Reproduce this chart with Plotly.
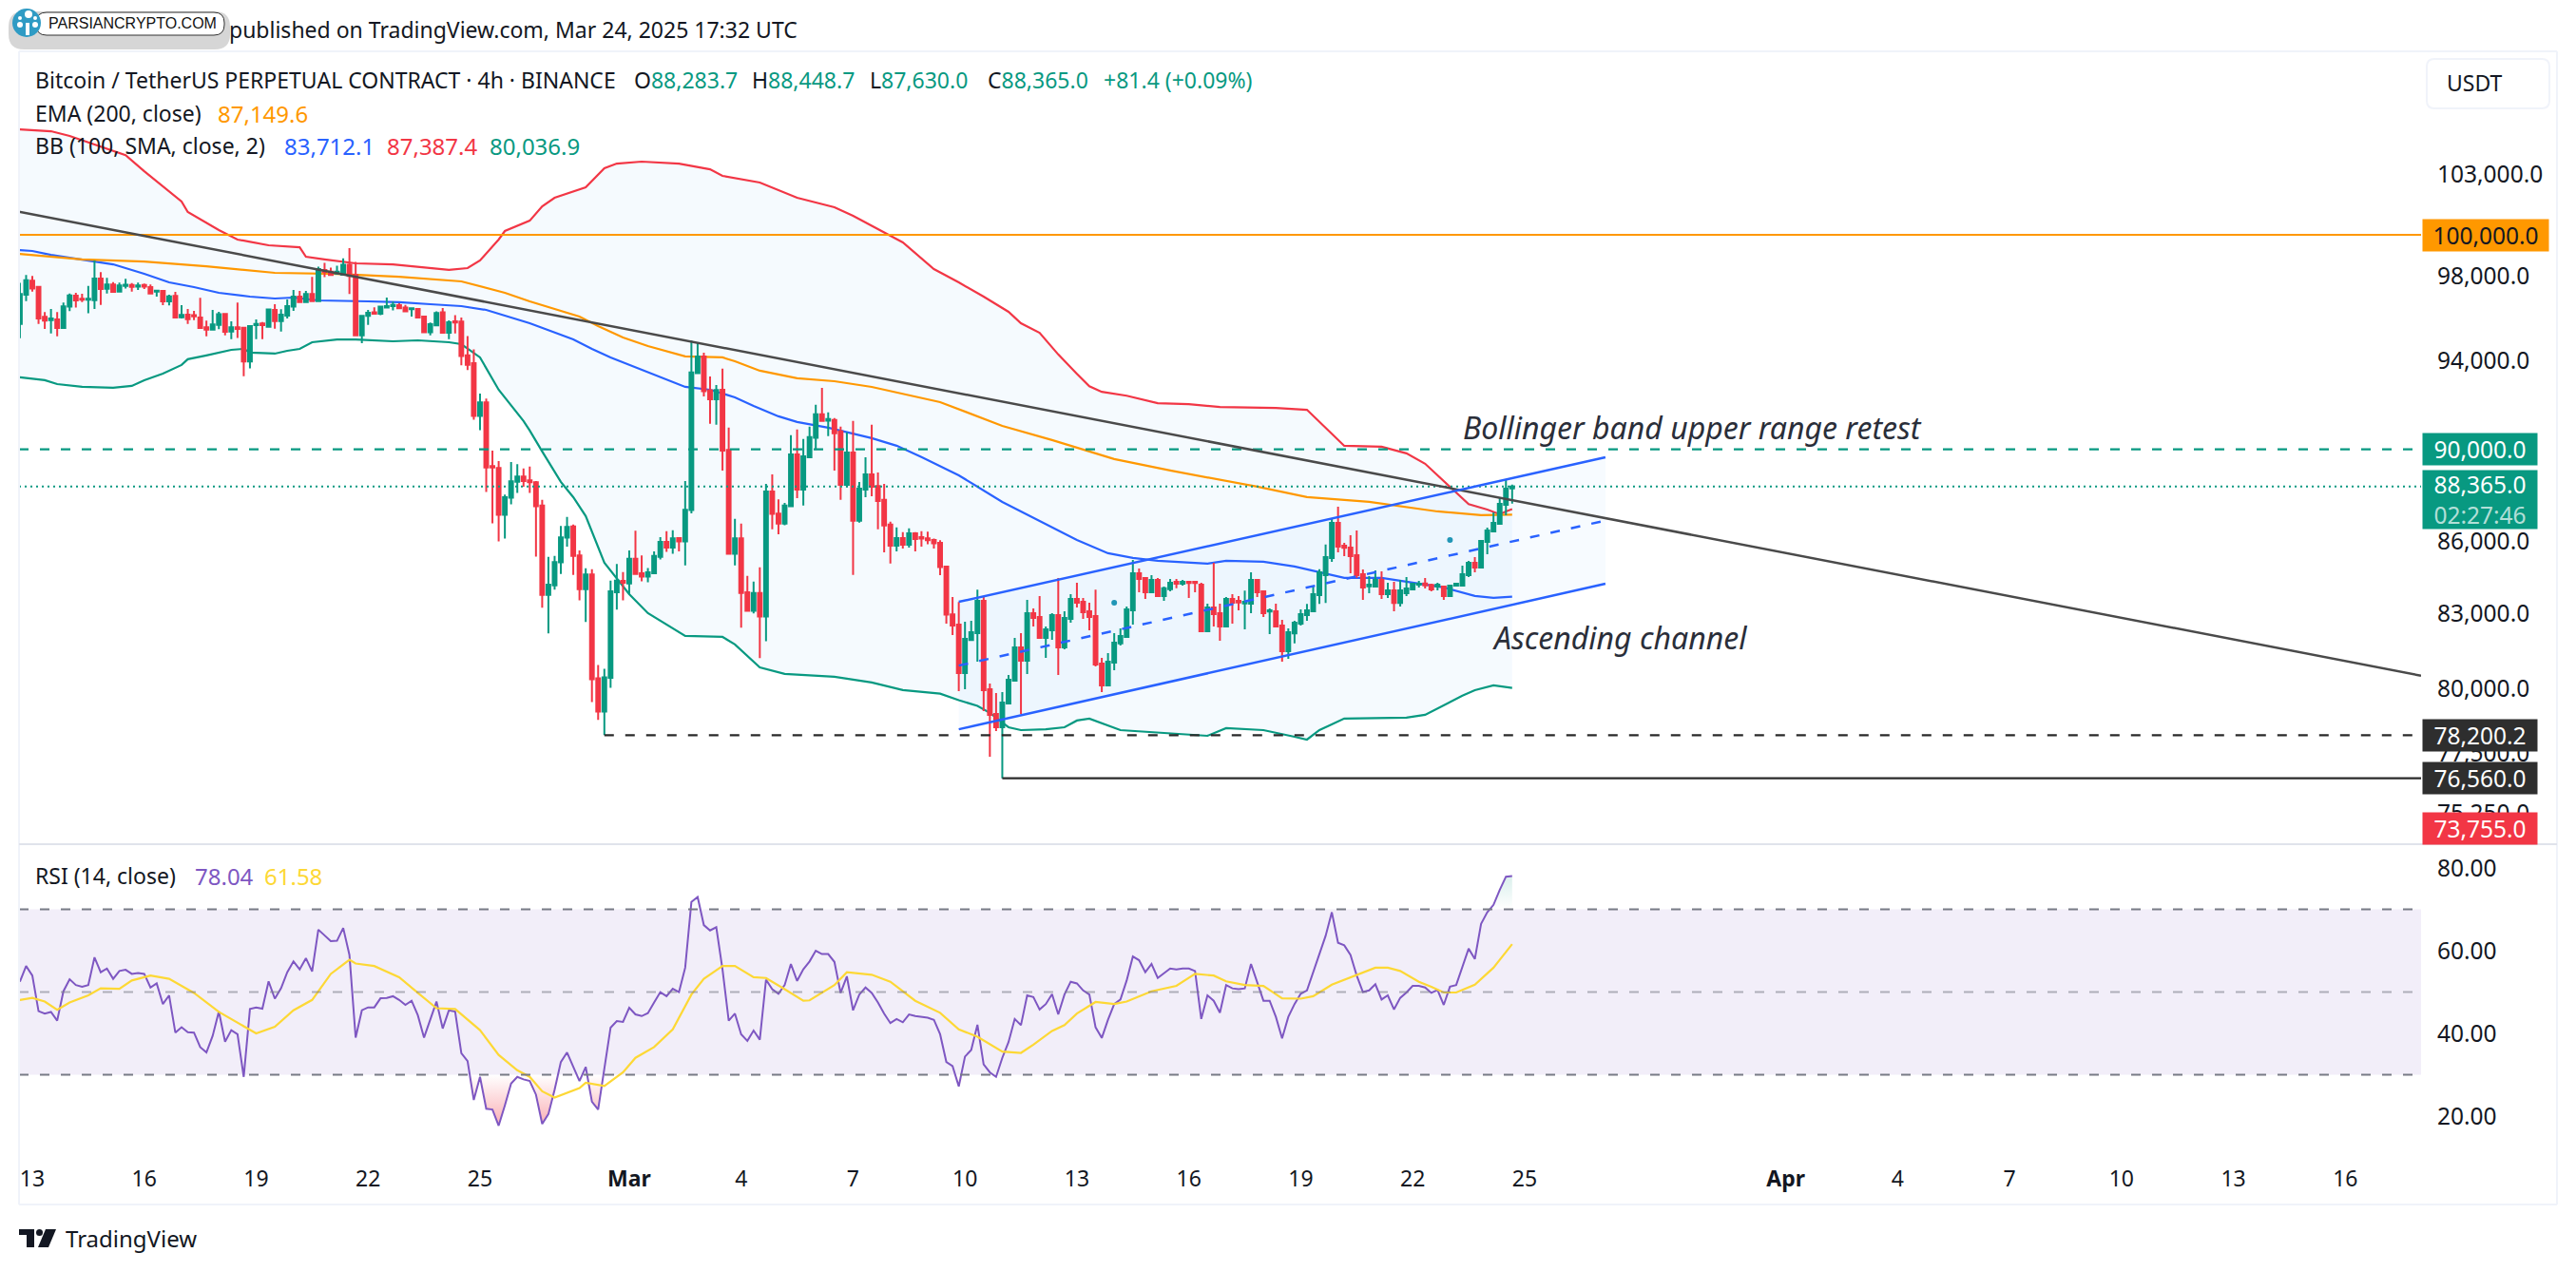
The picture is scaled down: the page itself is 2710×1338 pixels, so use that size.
import math
import pandas as pd
import plotly.graph_objects as go

FONT = 'Noto Sans'

#page size, everything around the panes is placed in pixels of the page
W = 2710
H = 1338

#open, high, low, close of the 4h bars, first row is bar -2 (12 Feb 16:00)
candles = [
    (95720,97670,95045,97130),(97100,98045,96800,97790),(97775,98000,97250,97400),(97475,97505,95720,95975),
    (96050,96275,95480,95870),(95900,96425,95270,95975),(95930,96275,95135,95525),(95525,96725,95525,96545),
    (96530,97160,96320,97070),(97055,97190,96485,96830),(96905,97145,96755,96860),(96860,97520,96215,96905),
    (96845,98750,96425,97880),(97880,98180,96620,97370),(97385,97910,97160,97595),(97595,97700,97235,97235),
    (97250,97685,97250,97550),(97520,97865,97400,97580),(97565,97655,97250,97475),(97490,97685,97325,97550),
    (97565,97640,97370,97490),(97460,97595,97115,97160),(97250,97295,97010,97295),(97280,97280,96605,96785),
    (96785,97100,96590,97025),(97040,97235,95990,96020),(96035,96605,95975,96140),(96155,96425,95720,95945),
    (96125,96335,95900,96080),(96020,96950,95495,95525),(95555,95870,95135,95450),(95450,96380,95435,95690),
    (95675,96290,95465,96170),(96185,96230,95180,95345),(95360,95840,95000,95555),(95555,96725,95060,95480),
    (95540,95585,93290,93965),(93965,95615,93650,95615),(95660,95930,95000,95720),(95735,95810,95000,95660),
    (95585,96425,95570,96395),(96380,96650,95495,95855),(95855,96410,95360,96155),(96110,96875,95975,96560),
    (96530,97325,96335,97010),(97010,97280,96725,96755),(96755,97280,96725,97130),(97130,97955,96770,96800),
    (96800,98450,96800,98330),(98285,98630,97940,98195),(98210,98405,98015,98045),(98120,98495,98060,98210),
    (98060,98855,98045,98540),(98540,99350,97130,98000),(98045,98675,95180,95180),(95180,96095,94820,96095),
    (96095,96380,95675,96245),(96260,96500,96200,96200),(96200,96530,96125,96530),(96485,96965,96470,96560),
    (96560,96770,96350,96620),(96605,96695,96425,96455),(96485,96620,96305,96305),(96410,96455,96065,96455),
    (96425,96425,96020,96020),(96065,96065,95300,95330),(95330,95780,95180,95705),(95645,96305,95645,96230),
    (96260,96470,95270,95300),(95300,95885,95000,95795),(95840,96125,95270,95780),(95825,96020,93785,94220),
    (94250,95150,93575,93815),(93893,94532,91314,91483),(91483,92498,90847,92098),(92098,92270,88125,89200),
    (89258,89941,86780,89200),(89172,89481,86010,87144),(87144,88016,86130,87907),(87880,89439,87593,88589),
    (88575,89341,88085,88798),(88798,89158,88357,88603),(88631,89241,88085,88548),(88548,88603,85372,87512),
    (87539,87785,83256,83787),(83787,85358,82208,84203),(84177,85398,83995,85148),(85135,86672,84647,86184),
    (86170,87050,85794,86631),(86645,86726,84607,85398),(85424,85636,83553,84021),(84021,84884,82672,84633),
    (84633,84845,79478,80381),(80419,80946,78790,79109),(79109,80795,78200,80457),(80432,84372,80042,83930),
    (83892,85069,83178,84372),(84359,84726,83553,84281),(84255,85636,83800,85280),(85280,86470,84647,84647),
    (84673,85424,84346,84541),(84541,84898,84307,84713),(84673,85596,84647,85398),(85358,86197,85253,85995),
    (85995,86443,85570,85754),(85754,86483,85490,86143),(86157,86197,85596,86010),(86010,88603,85003,87362),
    (87348,94933,87212,93458),(93430,94829,93430,94198),(94198,94369,92370,92600),(92642,93277,91130,92241),
    (92241,92885,91088,92656),(92670,93632,89063,89941),(89969,90960,85490,85490),(85490,86969,85003,86143),
    (86143,86767,82440,83865),(83892,84567,83088,83127),(83127,84333,83023,83865),(83865,84924,81222,82895),
    (82895,88480,81900,88153),(88153,88896,86523,87185),(87198,87812,86320,86767),(86767,87661,86699,87539),
    (87512,90624,87512,89774),(89774,90875,87866,88235),(88235,90450,87539,89690),(89648,91003,89607,90535),
    (90507,91985,89969,91557),(91557,92755,91215,91258),(91272,91642,90578,91343),(91300,91385,89063,90706),
    (90790,91003,87785,88440),(88440,90748,88330,89857),(89857,91258,84607,86888),(86888,88561,86807,88276),
    (88235,89648,87907,88896),(88896,91088,87948,88357),(88385,88980,86523,87743),(87785,88480,85555,86685),
    (86726,86848,85082,85834),(85834,86604,85596,86157),(86157,86403,85715,85874),(85874,86564,85754,86360),
    (86360,86403,85596,86117),(86197,86443,85794,86130),(86144,86427,85890,86063),(86077,86130,85717,85930),
    (85957,86063,84601,84931),(84958,84998,82610,82971),(82984,83697,82146,82532),(82571,83487,79913,80626),
    (80626,82687,79988,81994),(81943,82726,81917,82262),(82223,84000,81078,83539),(83539,83697,79133,79950),
    (79988,80213,77377,78985),(79023,79838,78359,78506),(78506,79875,76560,79466),(79429,80551,79392,80363),
    (80326,82032,80288,81650),(81650,82223,79023,81117),(81117,83579,80588,83036),(83036,83229,82494,82842),
    (82881,83736,82032,82032),(82032,82494,81231,82378),(82339,83036,81955,82958),(82958,84483,80551,81650),
    (81650,83107,81574,82842),(82803,83815,82648,83618),(83618,84287,83268,83461),(83500,83657,82803,83068),
    (83107,83461,82339,82881),(82920,84000,80888,80964),(81002,81231,79875,80138),(80138,81422,80138,81078),
    (81040,82223,80738,81841),(81805,82416,81727,82108),(82070,83304,82070,83190),(83150,85237,82571,84680),
    (84680,84878,83893,84438),(84478,84478,83618,83893),(83893,84601,83893,84398),(84398,84478,83736,83736),
    (83736,84130,83539,84052),(84013,84438,83933,84287),(84326,84438,84052,84247),(84247,84398,84169,84326),
    (84326,84326,83657,84273),(84326,84326,83893,84273),(84208,84287,82300,82300),(82300,83422,82300,83268),
    (83268,85118,82494,82997),(83036,83422,81917,82494),(82494,83697,82455,83618),(83618,83815,82610,83461),
    (83539,83736,83150,83474),(83435,83960,82377,83500),(83422,84719,83036,84398),(84398,84438,83697,83893),
    (83933,83973,82881,83036),(83100,83229,82184,83150),(83107,83422,82494,82494),(82532,82765,81078,81498),
    (81498,82416,81193,82262),(82216,82722,81806,82644),(82605,83184,82527,82994),(82955,83414,82722,83150),
    (83111,84125,83111,83810),(83770,84849,83414,84718),(84600,85885,83453,85352),(85312,86963,85152,86801),
    (86801,87493,85553,85794),(85834,85954,85393,85740),(85754,86275,84678,85393),(85433,86475,84481,84600),
    (84639,84836,83577,84086),(84139,84560,83849,84205),(84125,84797,84125,84402),(84402,84757,83616,83810),
    (83810,84283,83654,83967),(83967,84323,83111,83453),(83453,84402,83300,83967),(83849,84520,83732,84046),
    (84007,84283,83967,84244),(84205,84363,84086,84244),(84257,84481,84046,84178),(84191,84244,83928,84007),
    (84125,84283,83967,84205),(84125,84165,83577,83732),(83732,84205,83732,84165),(84165,84244,84165,84244),
    (84165,84994,84165,84639),(84600,85192,84520,85112),(85112,85352,84718,84915),(84915,86074,84876,86034),
    (85994,86597,85473,86475),(86435,87249,86435,86801),(86760,87860,86760,87615),(87575,88687,87127,88273),
    (88283.7,88448.7,87630,88365),
]

#rsi of every bar, same order as the candles
rsi_values = [
    52.5,56.3,54.0,45.4,44.8,45.2,43.1,50.2,53.1,51.7,51.3,51.7,58.4,54.8,55.7,53.2,55.1,55.4,54.4,54.6,
    54.4,51.1,52.1,47.1,49.2,40.2,41.5,40.3,40.2,36.7,35.4,39.4,45.3,38.0,40.8,39.8,29.5,45.9,46.3,46.0,
    52.6,48.4,50.9,54.8,57.4,55.5,58.2,55.0,65.1,63.8,62.3,62.4,65.5,59.0,39.0,45.6,46.3,46.3,48.5,48.6,
    49.0,48.1,46.9,47.9,44.4,39.0,43.3,47.7,41.2,45.6,45.3,35.2,33.3,23.9,29.5,21.8,21.6,17.7,22.6,27.9,
    29.5,28.9,28.5,25.2,18.1,20.5,26.4,33.1,35.4,31.8,28.5,31.9,23.5,21.6,31.0,41.4,43.0,42.8,46.2,44.6,
    44.2,44.9,47.5,50.0,49.0,50.8,50.0,55.9,71.8,73.0,66.2,64.9,65.7,55.5,43.1,44.8,39.8,38.2,40.7,38.5,
    53.0,50.7,49.6,51.7,56.8,52.7,55.5,57.4,60.0,59.2,59.2,57.3,49.8,53.8,45.6,49.4,51.1,49.8,47.5,44.8,
    42.5,43.5,42.7,44.6,44.2,44.0,43.8,43.3,39.8,33.1,32.1,27.2,34.4,36.0,42.1,32.5,30.6,29.5,34.1,37.9,
    43.5,42.0,49.2,48.8,45.8,47.1,49.5,44.6,49.4,52.5,52.1,50.4,49.4,41.5,38.9,43.3,47.1,48.2,52.8,58.6,
    57.7,54.8,56.8,53.4,54.6,55.7,55.5,55.7,55.7,55.1,43.5,49.2,47.9,45.0,51.7,50.9,50.7,50.9,56.8,52.1,
    47.9,47.9,44.0,38.8,44.0,47.1,49.6,50.4,54.8,59.7,63.6,69.3,61.9,61.3,59.0,54.0,50.0,50.4,51.9,48.2,
    49.2,45.8,48.6,49.9,51.5,51.5,51.1,49.8,50.5,46.9,51.3,51.7,55.9,60.5,58.0,66.5,69.3,71.1,74.7,77.9,
    78.04,
]

#the slower lines are read at their bends, (bar, value)
bb_upper = [(-2,105320),(3,105225),(6,104980),(15,104000),(18,103180),(24,101650),(25,101130),(30,100240),
    (33,99770),(38,99490),(43,99394),(44,98930),(47,98800),(52,98610),(58,98560),(63,98425),(67,98290),(70,98380),
    (72,98750),(75,99770),(76,100190),(80,100700),(82,101410),(84,101840),(89,102365),(92,103325),(94,103565),
    (98,103665),(104,103565),(109,103275),(111,102940),(117,102605),(123,101840),(129,101365),(132,100940),
    (140,99630),(145,98330),(149,97690),(153,97010),(157,96290),(159,95750),(162,95300),(165,94290),(168,93400),
    (170,92830),(172,92575),(176,92400),(181,92060),(186,92015),(191,91890),(200,91845),(205,91760),(208,90950),
    (211,90150),(217,90110),(221,89820),(224,89360),(228,88340),(231,87600),(234,87370),(236,87170),(237,87290),
    (238,87387)]
bb_lower = [(-2,93236),(2,93105),(4,92930),(8,92800),(13,92757),(16,92845),(18,93105),(21,93410),(24,93805),
    (25,94070),(28,94245),(32,94505),(34,94550),(35,94375),(39,94330),(41,94462),(43,94550),(45,94860),(49,94990),
    (52,94990),(58,94904),(62,94947),(67,94860),(69,94770),(72,94155),(75,92670),(79,91255),(80,90830),(82,89900),
    (85,88565),(87,87905),(89,87090),(92,85115),(96,83815),(99,83035),(102,82570),(105,82110),(111,82070),(113,81765),
    (117,80850),(121,80590),(129,80475),(135,80250),(140,79955),(146,79810),(149,79555),(152,79335),(154,79060),
    (157,78505),(159,78395),(163,78430),(166,78505),(168,78765),(170,78838),(175,78395),(182,78285),(189,78175),
    (192,78470),(198,78395),(203,78140),(205,78030),(207,78395),(211,78840),(221,78875),(224,78985),(230,79730),
    (232,79950),(235,80140),(238,80037)]
bb_basis = [(-2,99255),(0,99210),(3,99023),(7,98839),(10,98700),(13,98562),(18,98103),(22,97692),(26,97465),
    (30,97190),(35,97010),(39,96920),(42,96965),(46,96830),(54,96785),(59,96740),(64,96648),(69,96558),(73,96378),
    (74,96288),(80,95750),(87,94990),(90,94550),(93,94155),(98,93585),(101,93236),(105,92800),(109,92670),(113,92326),
    (116,91940),(120,91468),(123,91212),(128,90957),(135,90490),(139,90155),(143,89650),(149,88855),(156,87700),
    (162,86885),(168,86075),(173,85515),(177,85317),(181,85198),(189,85080),(192,85198),(198,85158),(203,84960),
    (207,84720),(211,84483),(217,84483),(227,84090),(232,83737),(235,83660),(238,83712)]
ema = [(-2,99070),(3,98931),(8,98800),(18,98700),(28,98470),(39,98150),(49,98103),(59,97965),(69,97738),(76,97190),
    (80,96785),(88,96063),(91,95615),(95,95082),(99,94680),(105,94200),(111,94155),(113,93979),(117,93541),(123,93192),
    (129,93060),(135,92800),(146,92110),(156,91040),(164,90406),(174,89565),(183,89063),(197,88360),(205,87905),
    (215,87700),(226,87290),(233,87130),(238,87150)]
rsi_ma = [(-2,48.1),(0,48.6),(2,47.7),(4,45.7),(6,47.5),(9,49.2),(11,50.9),(14,50.8),(16,52.8),(19,54.0),(22,53.2),
    (26,49.8),(30,45.2),(34,41.7),(36,40.0),(39,41.6),(42,45.6),(45,48.1),(48,54.4),(51,57.8),(52,56.9),(55,56.3),
    (59,53.6),(62,49.8),(65,46.1),(68,45.9),(72,40.8),(75,34.8),(78,31.1),(80,29.5),(82,26.0),(84,24.5),(88,26.8),
    (89,28.1),(92,27.3),(95,30.6),(97,34.1),(100,36.7),(103,41.0),(106,49.4),(108,53.2),(111,56.3),(113,56.3),(116,53.6),
    (118,53.4),(121,50.7),(124,47.9),(125,48.0),(129,51.7),(131,54.8),(135,54.2),(138,52.5),(142,47.9),(146,45.0),
    (149,41.0),(152,39.2),(154,37.5),(156,35.6),(159,35.3),(161,37.3),(164,40.6),(166,42.0),(168,44.8),(171,47.6),
    (174,47.1),(176,47.7),(180,50.2),(184,51.5),(187,54.4),(190,54.0),(192,52.6),(195,51.7),(198,51.5),(201,48.5),
    (204,48.4),(206,49.0),(209,51.8),(213,54.1),(216,55.9),(218,55.9),(220,55.1),(223,52.5),(225,51.3),(227,49.9),
    (229,49.9),(232,51.8),(235,55.9),(238,61.58)]


def bar_date(i):
    #bar 0 is 13 Feb 00:00, one bar every 4 hours
    return pd.Timestamp('2025-02-13') + pd.Timedelta(hours=4 * i)


def xs(points):
    return [bar_date(p[0]) for p in points]


def ys(points):
    return [p[1] for p in points]


def px_x(x):
    return x / W


def px_y(y):
    return 1 - y / H


def rounded(x0, y0, x1, y1, r):
    #rounded box as a path, given in page pixels
    pts = [(x0 + r, y0), (x1 - r, y0), (x1, y0), (x1, y0 + r), (x1, y1 - r), (x1, y1), (x1 - r, y1), (x0 + r, y1), (x0, y1), (x0, y1 - r), (x0, y0 + r), (x0, y0), (x0 + r, y0)]
    pts = [(px_x(a), px_y(b)) for a, b in pts]
    return ('M{0},{1} L{2},{3} Q{4},{5} {6},{7} L{8},{9} Q{10},{11} {12},{13} L{14},{15} Q{16},{17} {18},{19} L{20},{21} Q{22},{23} {24},{25} Z'
            .format(*[v for p in pts for v in p]))


def add_page_text(fig, x, y, text, size=23, color='#131722', family=FONT, xanchor='left'):
    fig.add_annotation(xref='paper', yref='paper', x=px_x(x), y=px_y(y), text=text, showarrow=False, xanchor=xanchor, yanchor='middle',
                       align='left', font=dict(family=family, size=size, color=color), borderpad=0)


def add_price_label(fig, price, text, bg, color='white', width=120, height=33):
    #axis label in a coloured box, annotations on a log axis take log10
    fig.add_annotation(xref='paper', yref='y', x=px_x(2548), y=math.log10(price), text=text, showarrow=False, xanchor='left', yanchor='middle',
                       align='center', width=width, height=height, bgcolor=bg, borderpad=0, font=dict(family=FONT, size=24.5, color=color))


dates = [bar_date(i) for i in range(-2, 239)]
ohlc = pd.DataFrame(candles, columns=['open', 'high', 'low', 'close'], index=dates)
rsi = pd.Series(rsi_values, index=dates)

# price range of the upper pane
price_range = [math.log10(74120), math.log10(109439)]

fig = go.Figure()

# bollinger fill and channel fill go under everything
fig.add_trace(go.Scatter(x=xs(bb_upper), y=ys(bb_upper), mode='lines', line=dict(color='#f23645', width=2.2)))
fig.add_trace(go.Scatter(x=xs(bb_lower), y=ys(bb_lower), mode='lines', line=dict(color='#089981', width=2.2), fill='tonexty', fillcolor='rgba(33,150,243,0.045)'))
fig.add_trace(go.Scatter(x=[bar_date(149), bar_date(253)], y=[83496, 89642], mode='lines', line=dict(width=0)))
fig.add_trace(go.Scatter(x=[bar_date(149), bar_date(253)], y=[78427, 84240], mode='lines', line=dict(width=0), fill='tonexty', fillcolor='rgba(33,150,243,0.035)'))
fig.add_trace(go.Scatter(x=xs(bb_basis), y=ys(bb_basis), mode='lines', line=dict(color='#2962ff', width=2.2)))
fig.add_trace(go.Scatter(x=xs(ema), y=ys(ema), mode='lines', line=dict(color='#ff9800', width=2.2)))
fig.add_trace(go.Scatter(x=[bar_date(174), bar_date(228)], y=[83460, 86075], mode='markers', marker=dict(color='#2196b6', size=6)))

# candles on an overlaying axis so they sit over the indicators
fig.add_trace(go.Candlestick(x=ohlc.index, open=ohlc['open'], high=ohlc['high'], low=ohlc['low'], close=ohlc['close'], yaxis='y3',
                             increasing=dict(line=dict(color='#089981', width=2), fillcolor='#089981'),
                             decreasing=dict(line=dict(color='#f23645', width=2), fillcolor='#f23645'),
                             whiskerwidth=0))

# rsi pane
fig.add_trace(go.Scatter(x=dates, y=[30] * len(dates), mode='lines', line=dict(width=0), yaxis='y2'))
fig.add_trace(go.Scatter(x=dates, y=rsi.clip(upper=30), mode='lines', line=dict(width=0), yaxis='y2', fill='tonexty',
                         fillgradient=dict(type='vertical', colorscale=[[0, 'rgba(242,54,69,0.4)'], [1, 'rgba(242,54,69,0)']])))
fig.add_trace(go.Scatter(x=dates, y=[70] * len(dates), mode='lines', line=dict(width=0), yaxis='y2'))
fig.add_trace(go.Scatter(x=dates, y=rsi.clip(lower=70), mode='lines', line=dict(width=0), yaxis='y2', fill='tonexty',
                         fillgradient=dict(type='vertical', colorscale=[[0, 'rgba(8,153,129,0)'], [1, 'rgba(8,153,129,0.15)']])))
fig.add_trace(go.Scatter(x=dates, y=rsi, mode='lines', line=dict(color='#7e57c2', width=2), yaxis='y2'))
fig.add_trace(go.Scatter(x=xs(rsi_ma), y=ys(rsi_ma), mode='lines', line=dict(color='#fdd835', width=2.2), yaxis='y2'))

# drawn lines, shapes stay above the traces
fig.add_hline(y=100000, line_color='#ff9800', line_width=2)
fig.add_hline(y=90000, line_color='#089981', line_width=2.2, line_dash='10px,12px')
fig.add_hline(y=88365, line_color='#089981', line_width=2, line_dash='2px,4px')
x_end = pd.Timestamp('2025-04-18 00:43')
fig.add_shape(type='line', x0=bar_date(92), x1=x_end, y0=78200.2, y1=78200.2, line=dict(color='#2a2a2a', width=2.2, dash='10px,12px'))
fig.add_shape(type='line', x0=bar_date(156), x1=x_end, y0=76560, y1=76560, line=dict(color='#2a2a2a', width=2.2))
fig.add_shape(type='line', x0=pd.Timestamp('2025-02-12 15:26'), x1=x_end, y0=101142, y1=80520, line=dict(color='#4a4a4a', width=2.5))
fig.add_shape(type='line', x0=bar_date(149), x1=bar_date(253), y0=83496, y1=89642, line=dict(color='#2962ff', width=2.5))
fig.add_shape(type='line', x0=bar_date(149), x1=bar_date(253), y0=78427, y1=84240, line=dict(color='#2962ff', width=2.5))
fig.add_shape(type='line', x0=bar_date(149), x1=bar_date(253), y0=80921, y1=86899, line=dict(color='#2962ff', width=2.5, dash='10px,12px'))

# rsi levels
fig.add_shape(type='rect', xref='x domain', yref='y2', x0=0, x1=1, y0=30, y1=70, fillcolor='rgba(126,87,194,0.1)', line=dict(width=0), layer='below')
fig.add_shape(type='line', xref='x domain', yref='y2', x0=0, x1=1, y0=70, y1=70, line=dict(color='#787b86', width=2, dash='10px,12px'))
fig.add_shape(type='line', xref='x domain', yref='y2', x0=0, x1=1, y0=50, y1=50, line=dict(color='rgba(120,123,134,0.55)', width=2, dash='10px,12px'))
fig.add_shape(type='line', xref='x domain', yref='y2', x0=0, x1=1, y0=30, y1=30, line=dict(color='#787b86', width=2, dash='10px,12px'))

#frame around the panes
for x0, y0, x1, y1, c in [(20, 54, 2690, 54, '#f0f3fa'), (20, 54, 20, 1267, '#f0f3fa'), (2690, 54, 2690, 1267, '#f0f3fa'), (20, 1267, 2690, 1267, '#f0f3fa'), (20, 888, 2690, 888, '#e0e3eb')]:
    fig.add_shape(type='line', xref='paper', yref='paper', x0=px_x(x0), x1=px_x(x1), y0=px_y(y0), y1=px_y(y1), line=dict(color=c, width=2))

# logo in the corner
fig.add_shape(type='path', xref='paper', yref='paper', path=rounded(9, 12, 242, 52, 16), fillcolor='rgba(0,0,0,0.16)', line=dict(width=0))
fig.add_shape(type='path', xref='paper', yref='paper', path=rounded(38, 13, 236, 37, 11), fillcolor='white', line=dict(color='#333333', width=1))
fig.add_shape(type='circle', xref='paper', yref='paper', x0=px_x(13), x1=px_x(43), y0=px_y(9), y1=px_y(39), fillcolor='#2f9bc4', line=dict(width=0))
fig.add_shape(type='rect', xref='paper', yref='paper', x0=px_x(27), x1=px_x(31), y0=px_y(24), y1=px_y(37), fillcolor='white', line=dict(width=0))
for cx, cy, r in [(30, 15, 4), (21, 19, 2), (37, 19, 2), (21, 26, 3), (37, 26, 3)]:
    fig.add_shape(type='circle', xref='paper', yref='paper', x0=px_x(cx - r), x1=px_x(cx + r), y0=px_y(cy - r), y1=px_y(cy + r), fillcolor='white', line=dict(width=0))
add_page_text(fig, 50, 25, 'PARSIANCRYPTO.COM', size=16, color='#111111', family='Liberation Sans')

# tradingview mark at the bottom
fig.add_shape(type='path', xref='paper', yref='paper', fillcolor='#131722', line=dict(width=0),
              path='M{},{} L{},{} L{},{} L{},{} L{},{} L{},{} Z'.format(px_x(20), px_y(1293), px_x(36), px_y(1293), px_x(36), px_y(1312), px_x(28), px_y(1312), px_x(28), px_y(1299), px_x(20), px_y(1299)))
fig.add_shape(type='path', xref='paper', yref='paper', fillcolor='#131722', line=dict(width=0),
              path='M{},{} L{},{} L{},{} L{},{} Z'.format(px_x(48), px_y(1293), px_x(59), px_y(1293), px_x(51), px_y(1312), px_x(40), px_y(1312)))
fig.add_shape(type='circle', xref='paper', yref='paper', x0=px_x(38), x1=px_x(45), y0=px_y(1293), y1=px_y(1300), fillcolor='#131722', line=dict(width=0))
add_page_text(fig, 68, 1302, 'TradingView', size=24)

# usdt button
fig.add_shape(type='path', xref='paper', yref='paper', path=rounded(2553, 62, 2682, 114, 8), fillcolor='white', line=dict(color='#f0f3fa', width=2))
add_page_text(fig, 2573, 87, 'USDT')

#texts over the chart
add_page_text(fig, 240, 31, 'published on TradingView.com, Mar 24, 2025 17:32 UTC', size=23)
GREEN = '#089981'
add_page_text(fig, 36, 84, 'Bitcoin / TetherUS PERPETUAL CONTRACT · 4h · BINANCE')
for x, letter, value in [(666, 'O', '88,283.7'), (790, 'H', '88,448.7'), (914, 'L', '87,630.0'), (1038, 'C', '88,365.0')]:
    add_page_text(fig, x, 84, '{}<span style="color:{}">{}</span>'.format(letter, GREEN, value))
add_page_text(fig, 1160, 84, '+81.4 (+0.09%)', size=23, color=GREEN)
add_page_text(fig, 36, 119, 'EMA (200, close)')
add_page_text(fig, 228, 119, '87,149.6', size=24, color='#ff9800')
add_page_text(fig, 36, 153, 'BB (100, SMA, close, 2)')
add_page_text(fig, 298, 153, '83,712.1', size=24, color='#2962ff')
add_page_text(fig, 406, 153, '87,387.4', size=24, color='#f23645')
add_page_text(fig, 514, 153, '80,036.9', size=24, color='#089981')
add_page_text(fig, 36, 921, 'RSI (14, close)')
add_page_text(fig, 204, 921, '78.04', size=24, color='#7e57c2')
add_page_text(fig, 277, 921, '61.58', size=24, color='#fdd835')
add_page_text(fig, 1538, 449, '<i>Bollinger band upper range retest</i>', size=32, color='#2a2e39')
add_page_text(fig, 1569, 670, '<i>Ascending channel</i>', size=32, color='#2a2e39')

# labels on the price axis
add_price_label(fig, 100000, '100,000.0', '#ff9800', color='#131722', width=132)
add_price_label(fig, 90000, '90,000.0', '#089981')
add_price_label(fig, 87797, '88,365.0<br><span style="color:rgba(255,255,255,0.7)">02:27:46</span>', '#089981', height=61)
add_price_label(fig, 78200.2, '78,200.2', '#2e2e2e')
add_price_label(fig, 76560, '76,560.0', '#2e2e2e')
add_price_label(fig, 74710, '73,755.0', '#f23645')

x_ticks = ['2025-02-13', '2025-02-16', '2025-02-19', '2025-02-22', '2025-02-25', '2025-03-01', '2025-03-04', '2025-03-07', '2025-03-10', '2025-03-13', '2025-03-16', '2025-03-19', '2025-03-22', '2025-03-25', '2025-04-01', '2025-04-04', '2025-04-07', '2025-04-10', '2025-04-13', '2025-04-16']
x_text = ['13', '16', '19', '22', '25', '<b>Mar</b>', '4', '7', '10', '13', '16', '19', '22', '25', '<b>Apr</b>', '4', '7', '10', '13', '16']
price_ticks = [103000, 98000, 94000, 86000, 83000, 80000, 77500, 75250]

fig.update_layout(
    width=W,
    height=H,
    autosize=False,
    margin=dict(l=0, r=0, t=0, b=0, pad=0),
    paper_bgcolor='white',
    plot_bgcolor='white',
    showlegend=False,
    hovermode=False,
    boxgap=0.4,
    boxgroupgap=0,
    font=dict(family=FONT, size=23, color='#131722'),
    xaxis=dict(domain=[px_x(20), px_x(2547)], anchor='y2', type='date', range=['2025-02-12 15:26', '2025-04-18 00:43'], rangeslider=dict(visible=False),
               tickmode='array', tickvals=x_ticks, ticktext=x_text, showgrid=False, zeroline=False, ticks='', ticklabelstandoff=6, showline=False),
    yaxis=dict(domain=[px_y(888), px_y(54)], anchor='x', side='right', type='log', range=price_range, tickmode='array', tickvals=price_ticks,
               ticktext=['{:,.1f}'.format(t) for t in price_ticks], showgrid=False, zeroline=False, ticks='', ticklabelstandoff=16, tickfont=dict(size=24.5)),
    yaxis2=dict(domain=[px_y(1218), px_y(890)], anchor='x', side='right', range=[9.9, 85.3], tickmode='array', tickvals=[20, 40, 60, 80],
                ticktext=['20.00', '40.00', '60.00', '80.00'], showgrid=False, zeroline=False, ticks='', ticklabelstandoff=16, tickfont=dict(size=24.5)),
    yaxis3=dict(overlaying='y', anchor='x', side='right', type='log', range=price_range, visible=False),
)

#no page margin, the picture fills the window
fig.write_html("out.html", config={'displayModeBar': False}, post_script="document.body.style.margin='0';")
